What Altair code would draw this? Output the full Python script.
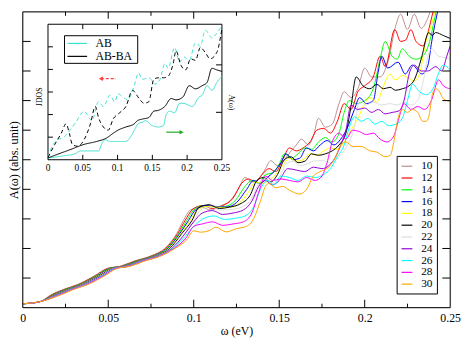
import altair as alt
import pandas as pd

# ---------------- main chart data ----------------
series_names = ['10', '12', '14', '16', '18', '20', '22', '24', '26', '28', '30']
series_colors = ['#bc8f8f', '#ff0000', '#00ff00', '#0000ff', '#ffff00', '#000000',
                 '#dcdcdc', '#9400d3', '#00ffff', '#ff00ff', '#ffa500']

c10 = [(0, 0.13), (0.01, 0.2), (0.017, 0.45), (0.024, 0.62), (0.032, 0.78), (0.042, 1.08),
       (0.049, 1.32), (0.057, 1.4), (0.065, 1.57), (0.075, 1.75), (0.083, 2.0), (0.090, 2.5),
       (0.094, 2.95), (0.098, 3.3), (0.104, 3.4), (0.11, 3.3), (0.116, 3.45), (0.121, 3.6),
       (0.126, 4.0), (0.13, 4.4), (0.134, 4.25), (0.138, 4.35), (0.142, 4.7), (0.145, 4.97),
       (0.149, 4.8), (0.153, 5.0), (0.157, 5.3), (0.16, 5.5), (0.163, 5.7), (0.167, 5.5),
       (0.17, 5.8), (0.173, 6.4), (0.177, 6.1), (0.181, 6.2), (0.185, 6.9), (0.188, 7.3),
       (0.192, 7.1), (0.196, 7.4), (0.2, 8.1), (0.204, 7.8), (0.209, 7.8), (0.214, 8.4),
       (0.218, 9.5), (0.221, 9.92), (0.225, 9.4), (0.229, 9.92), (0.233, 9.44), (0.237, 9.8),
       (0.241, 10.5), (0.245, 10.8), (0.25, 11.0)]
c12 = [(0, 0.13), (0.01, 0.2), (0.0176, 0.45), (0.0246, 0.62), (0.0326, 0.78), (0.0426, 1.08),
       (0.0496, 1.32), (0.0576, 1.4), (0.0656, 1.57), (0.0756, 1.75), (0.0836, 2.0), (0.0906, 2.5),
       (0.095, 2.95), (0.099, 3.3), (0.105, 3.45), (0.111, 3.35), (0.117, 3.45), (0.123, 3.7),
       (0.128, 4.2), (0.132, 4.35), (0.136, 4.25), (0.14, 4.5), (0.144, 4.7), (0.148, 4.6),
       (0.152, 5.0), (0.156, 5.4), (0.16, 5.3), (0.164, 5.4), (0.168, 5.6), (0.172, 6.0),
       (0.176, 6.06), (0.18, 5.9), (0.184, 6.3), (0.188, 6.9), (0.192, 6.7), (0.196, 7.3),
       (0.2, 7.5), (0.205, 7.8), (0.209, 8.5), (0.212, 8.15), (0.2176, 9.4), (0.221, 9.0),
       (0.224, 9.05), (0.227, 9.4), (0.23, 9.0), (0.234, 8.85), (0.237, 9.3), (0.24, 10.0),
       (0.244, 10.6), (0.25, 11.0)]
c14 = [(0, 0.13), (0.01, 0.2), (0.0182, 0.45), (0.0252, 0.62), (0.0332, 0.78), (0.0432, 1.08),
       (0.0502, 1.32), (0.0582, 1.4), (0.0662, 1.57), (0.0762, 1.75), (0.0842, 2.0), (0.0912, 2.5),
       (0.096, 2.95), (0.1, 3.3), (0.106, 3.45), (0.112, 3.4), (0.118, 3.42), (0.124, 3.6),
       (0.13, 4.1), (0.134, 4.3), (0.138, 4.2), (0.142, 4.5), (0.146, 4.55), (0.15, 4.85),
       (0.153, 5.2), (0.157, 5.05), (0.161, 5.2), (0.165, 5.4), (0.169, 5.35), (0.173, 5.6),
       (0.177, 5.75), (0.181, 5.6), (0.185, 5.9), (0.188, 6.6), (0.191, 7.0), (0.195, 6.9),
       (0.2, 7.0), (0.205, 7.4), (0.209, 8.4), (0.212, 9.0), (0.216, 8.5), (0.219, 8.4),
       (0.222, 8.75), (0.226, 8.5), (0.23, 8.4), (0.234, 8.5), (0.238, 9.0), (0.241, 9.8),
       (0.244, 10.5), (0.25, 11.0)]
c16 = [(0, 0.13), (0.01, 0.2), (0.0188, 0.45), (0.0258, 0.62), (0.0338, 0.78), (0.0438, 1.08),
       (0.0508, 1.32), (0.0588, 1.4), (0.0668, 1.57), (0.0768, 1.75), (0.0848, 2.0), (0.0918, 2.5),
       (0.097, 2.95), (0.101, 3.3), (0.107, 3.45), (0.113, 3.42), (0.119, 3.4), (0.125, 3.55),
       (0.131, 4.0), (0.135, 4.3), (0.139, 4.2), (0.143, 4.4), (0.147, 4.6), (0.151, 4.9),
       (0.154, 5.2), (0.158, 5.0), (0.162, 5.05), (0.166, 5.4), (0.17, 5.3), (0.174, 5.5),
       (0.178, 5.65), (0.182, 5.5), (0.186, 5.7), (0.19, 6.1), (0.194, 6.7), (0.197, 7.1),
       (0.201, 6.9), (0.205, 7.0), (0.208, 8.0), (0.21, 8.5), (0.2135, 8.1), (0.2195, 8.3),
       (0.2237, 7.9), (0.2278, 8.2), (0.2335, 7.9), (0.237, 8.2), (0.2392, 9.0), (0.2415, 9.7),
       (0.245, 10.5), (0.25, 11.0)]
c18 = [(0, 0.13), (0.01, 0.2), (0.0194, 0.45), (0.0264, 0.62), (0.0344, 0.78), (0.0444, 1.08),
       (0.0514, 1.32), (0.0594, 1.4), (0.0674, 1.57), (0.0774, 1.75), (0.0854, 2.0), (0.0924, 2.5),
       (0.098, 2.95), (0.102, 3.3), (0.108, 3.42), (0.114, 3.4), (0.12, 3.38), (0.126, 3.5),
       (0.132, 3.9), (0.136, 4.25), (0.14, 4.2), (0.144, 4.3), (0.148, 4.5), (0.152, 4.8),
       (0.156, 5.05), (0.16, 4.95), (0.164, 5.0), (0.168, 5.2), (0.172, 5.15), (0.176, 5.3),
       (0.18, 5.4), (0.184, 5.35), (0.188, 5.6), (0.192, 6.0), (0.196, 6.4), (0.2, 6.9),
       (0.203, 7.1), (0.207, 6.95), (0.211, 7.5), (0.2148, 7.9), (0.218, 7.7), (0.222, 7.85),
       (0.226, 7.75), (0.229, 7.67), (0.232, 7.9), (0.2358, 9.0), (0.2392, 9.6), (0.242, 10.2),
       (0.25, 11.0)]
c20 = [(0, 0.13), (0.01, 0.2), (0.02, 0.45), (0.027, 0.62), (0.035, 0.78), (0.045, 1.08),
       (0.052, 1.32), (0.06, 1.4), (0.068, 1.57), (0.078, 1.75), (0.086, 2.0), (0.093, 2.5),
       (0.099, 2.95), (0.103, 3.38), (0.109, 3.48), (0.115, 3.35), (0.121, 3.4), (0.127, 3.5),
       (0.133, 3.8), (0.137, 4.3), (0.141, 4.4), (0.145, 4.25), (0.149, 4.5), (0.153, 5.0),
       (0.157, 5.1), (0.161, 4.9), (0.165, 4.95), (0.169, 5.2), (0.173, 5.15), (0.177, 5.2),
       (0.181, 5.3), (0.185, 5.5), (0.189, 5.9), (0.192, 6.8), (0.195, 7.8), (0.199, 7.5),
       (0.203, 7.4), (0.207, 7.55), (0.211, 7.4), (0.2148, 7.45), (0.218, 7.35), (0.222, 7.4),
       (0.226, 7.5), (0.229, 7.7), (0.233, 8.4), (0.2375, 9.3), (0.2395, 9.2), (0.2415, 9.3),
       (0.246, 9.2), (0.25, 9.1)]
c22 = [(0, 0.13), (0.01, 0.2), (0.0206, 0.45), (0.0276, 0.62), (0.0356, 0.78), (0.0456, 1.08),
       (0.0526, 1.32), (0.0606, 1.4), (0.0686, 1.57), (0.0786, 1.75), (0.0866, 2.0), (0.0936, 2.5),
       (0.1, 2.95), (0.104, 3.3), (0.11, 3.4), (0.116, 3.3), (0.122, 3.32), (0.128, 3.4),
       (0.134, 3.7), (0.138, 4.2), (0.142, 4.35), (0.146, 4.2), (0.15, 4.4), (0.154, 4.85),
       (0.158, 4.95), (0.162, 4.8), (0.166, 4.85), (0.17, 4.95), (0.175, 4.97), (0.18, 4.9),
       (0.185, 5.1), (0.19, 5.5), (0.194, 6.1), (0.197, 7.0), (0.201, 6.85), (0.205, 6.95),
       (0.21, 6.85), (0.2148, 6.9), (0.219, 6.85), (0.223, 6.95), (0.227, 6.85), (0.231, 7.0),
       (0.234, 7.6), (0.2375, 8.6), (0.2392, 8.75), (0.2432, 8.5), (0.247, 8.45), (0.25, 8.4)]
c24 = [(0, 0.13), (0.01, 0.2), (0.0212, 0.45), (0.0282, 0.62), (0.0362, 0.78), (0.0462, 1.08),
       (0.0532, 1.32), (0.0612, 1.4), (0.0692, 1.57), (0.0792, 1.75), (0.0872, 2.0), (0.0942, 2.45),
       (0.1, 2.9), (0.105, 3.2), (0.111, 3.28), (0.117, 3.15), (0.123, 3.2), (0.129, 3.3),
       (0.134, 3.6), (0.138, 4.1), (0.142, 4.3), (0.146, 4.15), (0.15, 4.3), (0.155, 4.7),
       (0.16, 4.65), (0.165, 4.6), (0.17, 4.75), (0.175, 4.7), (0.179, 4.8), (0.183, 5.1),
       (0.186, 5.5), (0.189, 6.0), (0.192, 6.85), (0.196, 6.7), (0.2, 6.75), (0.204, 6.6),
       (0.208, 6.7), (0.212, 6.55), (0.216, 6.6), (0.22, 6.65), (0.223, 7.0), (0.226, 7.9),
       (0.229, 8.2), (0.233, 8.0), (0.237, 8.0), (0.2415, 8.15), (0.245, 8.0), (0.248, 8.5),
       (0.25, 8.85)]
c26 = [(0, 0.13), (0.01, 0.2), (0.0218, 0.45), (0.0288, 0.62), (0.0368, 0.78), (0.0468, 1.08),
       (0.0538, 1.32), (0.0618, 1.4), (0.0698, 1.57), (0.0798, 1.75), (0.0878, 2.0), (0.0948, 2.4),
       (0.101, 2.8), (0.106, 3.02), (0.112, 3.1), (0.118, 2.98), (0.124, 3.02), (0.13, 3.1),
       (0.135, 3.4), (0.139, 4.0), (0.143, 4.3), (0.147, 4.15), (0.151, 4.45), (0.156, 4.4),
       (0.161, 4.3), (0.166, 4.45), (0.171, 4.4), (0.176, 4.5), (0.18, 4.7), (0.184, 5.1),
       (0.188, 5.5), (0.191, 6.1), (0.194, 6.45), (0.198, 6.3), (0.202, 6.4), (0.206, 6.2),
       (0.21, 6.3), (0.214, 6.15), (0.218, 6.2), (0.222, 6.4), (0.225, 7.0), (0.228, 7.55),
       (0.232, 7.3), (0.236, 7.2), (0.24, 7.4), (0.243, 7.9), (0.246, 8.2), (0.25, 8.03)]
c28 = [(0, 0.13), (0.01, 0.2), (0.0224, 0.45), (0.0294, 0.62), (0.0374, 0.78), (0.0474, 1.08),
       (0.0544, 1.32), (0.0624, 1.4), (0.0704, 1.57), (0.0804, 1.75), (0.0884, 2.0), (0.0954, 2.35),
       (0.1, 2.75), (0.105, 2.83), (0.111, 2.9), (0.117, 2.78), (0.123, 2.83), (0.129, 2.9),
       (0.134, 3.2), (0.138, 3.9), (0.142, 4.45), (0.146, 4.3), (0.151, 4.35), (0.156, 4.3),
       (0.161, 4.25), (0.166, 4.4), (0.171, 4.3), (0.175, 4.45), (0.178, 4.9), (0.181, 5.6),
       (0.185, 5.9), (0.189, 5.7), (0.193, 6.0), (0.197, 5.95), (0.201, 5.85), (0.205, 5.9),
       (0.209, 5.7), (0.213, 5.6), (0.217, 5.8), (0.22, 6.4), (0.223, 6.9), (0.227, 6.7),
       (0.231, 6.8), (0.235, 6.7), (0.239, 7.0), (0.2432, 7.7), (0.246, 7.5), (0.25, 7.4)]
c30 = [(0, 0.13), (0.01, 0.2), (0.023, 0.45), (0.03, 0.62), (0.038, 0.78), (0.048, 1.08),
       (0.055, 1.32), (0.063, 1.4), (0.071, 1.57), (0.081, 1.75), (0.089, 2.0), (0.096, 2.3),
       (0.1, 2.6), (0.104, 2.55), (0.109, 2.6), (0.113, 2.72), (0.119, 2.56), (0.125, 2.67),
       (0.131, 2.75), (0.135, 3.0), (0.139, 3.6), (0.142, 4.1), (0.144, 4.2), (0.148, 4.05),
       (0.152, 4.1), (0.156, 3.97), (0.162, 3.84), (0.166, 4.0), (0.17, 4.45), (0.174, 4.6),
       (0.179, 4.75), (0.183, 5.1), (0.186, 5.5), (0.189, 5.6), (0.193, 5.45), (0.198, 5.45),
       (0.203, 5.3), (0.207, 5.26), (0.212, 5.1), (0.215, 5.15), (0.217, 5.6), (0.2195, 6.4),
       (0.222, 6.7), (0.225, 6.6), (0.228, 6.7), (0.231, 6.6), (0.234, 6.3), (0.236, 6.3),
       (0.238, 6.6), (0.2395, 7.2), (0.2415, 7.4), (0.2432, 7.35), (0.246, 7.06), (0.25, 6.97)]
main_curves = [c10, c12, c14, c16, c18, c20, c22, c24, c26, c28, c30]

# axis tick values
x_labels = [0, 0.05, 0.1, 0.15, 0.2, 0.25]
x_major = [0.05, 0.1, 0.15, 0.2]
x_minor = [0.025, 0.075, 0.125, 0.175, 0.225]
y_major = [1, 2, 3, 4, 5, 6, 7, 8, 9]

# ---------------- inset data ----------------
ab_jdos = [(0, 0.1), (0.0075, 0.68), (0.0145, 0.89), (0.024, 1.03), (0.033, 1.38), (0.04, 1.66),
           (0.052, 2.15), (0.056, 2.01), (0.063, 1.73), (0.0726, 2.57), (0.0796, 2.36), (0.089, 2.86),
           (0.096, 2.57), (0.1006, 2.92), (0.1075, 2.78), (0.1145, 2.65), (0.124, 3.28), (0.13, 3.84),
           (0.1355, 3.56), (0.1448, 3.63), (0.154, 3.35), (0.161, 3.56), (0.168, 4.26), (0.1727, 4.05),
           (0.182, 4.97), (0.189, 4.33), (0.196, 4.54), (0.203, 4.4), (0.212, 5.18), (0.219, 5.03),
           (0.226, 5.74), (0.2356, 5.39), (0.2426, 5.6), (0.25, 5.95)]
abba_jdos = [(0, 0.1), (0.0098, 0.68), (0.019, 1.17), (0.026, 1.59), (0.0307, 1.17), (0.035, 0.68),
             (0.042, 0.6), (0.052, 0.89), (0.061, 1.59), (0.068, 2.36), (0.0726, 1.87), (0.0796, 1.45),
             (0.0866, 1.31), (0.0936, 1.8), (0.103, 2.08), (0.112, 2.36), (0.1215, 3.07), (0.131, 2.71),
             (0.138, 2.5), (0.145, 2.57), (0.152, 3.56), (0.159, 3.63), (0.166, 3.63), (0.1727, 3.7),
             (0.18, 4.26), (0.184, 4.82), (0.191, 4.19), (0.198, 3.98), (0.205, 4.47), (0.212, 4.4),
             (0.219, 4.97), (0.226, 4.75), (0.233, 4.47), (0.2426, 4.75), (0.25, 5.8)]
abba_a = [(0, 0.08), (0.0145, 0.25), (0.033, 0.46), (0.052, 0.68), (0.07, 0.81), (0.084, 0.96),
          (0.0936, 1.17), (0.1006, 1.31), (0.112, 1.45), (0.124, 1.59), (0.1285, 1.73), (0.1355, 1.8),
          (0.145, 1.87), (0.152, 2.15), (0.159, 2.19), (0.168, 2.36), (0.177, 2.71), (0.184, 2.65),
          (0.194, 2.78), (0.203, 3.28), (0.212, 3.14), (0.2216, 3.28), (0.2286, 3.42), (0.2356, 4.05),
          (0.2426, 3.98), (0.25, 3.91)]
ab_a = [(0, 0.08), (0.024, 0.18), (0.0377, 0.25), (0.047, 0.39), (0.061, 0.39), (0.0726, 0.39),
        (0.077, 0.68), (0.082, 0.89), (0.089, 0.81), (0.1006, 0.81), (0.112, 0.81), (0.119, 1.03),
        (0.124, 1.31), (0.131, 1.63), (0.1355, 1.66), (0.14, 1.73), (0.1494, 1.52), (0.159, 1.45),
        (0.166, 1.52), (0.17, 2.01), (0.175, 2.15), (0.182, 2.08), (0.189, 2.5), (0.194, 2.5),
        (0.2077, 2.36), (0.217, 2.78), (0.2216, 2.86), (0.2286, 3.28), (0.2356, 3.07), (0.2426, 3.42),
        (0.25, 3.7)]

inset_series = ['AB', 'AB-BA']
inset_colors = ['#40e0d0', '#000000']
inset_x_labels = [0, 0.05, 0.1, 0.15, 0.2, 0.25]
inset_x_label_text = ['0', '0.05', '0.1', '0.15', '0.2', '0.25']
inset_x_ticks = [0.05, 0.1, 0.15, 0.2]
inset_y_left = [1, 2, 3, 4, 5]
inset_y_right = [2.1, 4.2]

arrow_red_w = [0.0978, 0.0760]
arrow_red_y = [3.59, 3.59]
arrow_green_w = [0.170, 0.192]
arrow_green_y = [1.22, 1.22]

# ---------------- layout constants (style) ----------------
W, H = 435, 301
IX0, IX1 = 25.7, 202.7
IY0, IY1 = 150.5, 12.6
SERIF = 'Liberation Serif'

rows = []
for name, curve in zip(series_names, main_curves):
    for w, a in curve:
        rows.append({'w': w, 'A': a, 'N': name})
df_main = pd.DataFrame(rows)

xs = alt.Scale(domain=[0, 0.25], nice=False, zero=False)
ys = alt.Scale(domain=[0, 10], nice=False, zero=False)
ax_x = alt.Axis(values=x_labels, format='~g', title='ω (eV)', ticks=False, tickSize=0, domain=False,
                grid=False, labelFont=SERIF, labelFontSize=12, labelColor='black', labelPadding=5,
                labelFlush=False, titleFont=SERIF, titleFontSize=12, titleFontWeight='normal',
                titleColor='black', titlePadding=2)
ax_y = alt.Axis(title='A(ω) (abs. unit)', labels=False, ticks=False, tickSize=0, domain=False,
                grid=False, titleFont=SERIF, titleFontSize=12.5, titleFontWeight='normal',
                titleColor='black', titlePadding=2)

lines = alt.Chart(df_main).mark_line(strokeWidth=1, clip=True, interpolate='monotone').encode(
    x=alt.X('w:Q', scale=xs, axis=ax_x),
    y=alt.Y('A:Q', scale=ys, axis=ax_y),
    color=alt.Color('N:N', scale=alt.Scale(domain=series_names, range=series_colors),
                    legend=alt.Legend(title=None, orient='none', legendX=380.5, legendY=146.6,
                                      symbolType='stroke', symbolSize=121, symbolStrokeWidth=1.2,
                                      labelFont=SERIF, labelFontSize=11.5, labelColor='black',
                                      labelOffset=8, strokeColor='black', fillColor='white',
                                      padding=4, rowPadding=0)),
    order=alt.Order('w:Q'),
)

def vticks(vals, y_from, y_to):
    return alt.Chart(pd.DataFrame({'w': vals})).mark_rule(color='black', strokeWidth=1).encode(
        x=alt.X('w:Q', scale=xs, axis=ax_x), y=alt.value(y_from), y2=alt.value(y_to))

def hticks(vals, x_from, x_to):
    return alt.Chart(pd.DataFrame({'A': vals})).mark_rule(color='black', strokeWidth=1).encode(
        y=alt.Y('A:Q', scale=ys, axis=ax_y), x=alt.value(x_from), x2=alt.value(x_to))

main_frame = alt.Chart(pd.DataFrame({'k': [0]})).mark_rect(
    fillOpacity=0, stroke='black', strokeWidth=1).encode(
    x=alt.value(0), x2=alt.value(W), y=alt.value(0), y2=alt.value(H))

main_layer = alt.layer(
    lines,
    vticks(x_major, H, H - 8), vticks(x_minor, H, H - 4),
    vticks(x_major, 0, 7), vticks(x_minor, 0, 4),
    hticks(y_major, 0, 8), hticks(y_major, W, W - 8),
    main_frame,
)

# ---------------- inset ----------------
ixs = alt.Scale(domain=[0, 0.25], range=[IX0, IX1], nice=False, zero=False)
iys = alt.Scale(domain=[0, 6], range=[IY0, IY1], nice=False, zero=False)

irows = []
for series, kind, curve in [('AB', 'JDOS', ab_jdos), ('AB-BA', 'JDOS', abba_jdos),
                            ('AB', 'A', ab_a), ('AB-BA', 'A', abba_a)]:
    for w, v in curve:
        irows.append({'iw': w, 'iy': v, 'series': series, 'kind': kind})
df_inset = pd.DataFrame(irows)

frame = alt.Chart(pd.DataFrame({'iw': [0], 'iw2': [0.25], 'iy': [0], 'iy2': [6]})).mark_rect(
    fill='white', stroke='black', strokeWidth=1).encode(
    x=alt.X('iw:Q', scale=ixs, axis=None), x2='iw2:Q',
    y=alt.Y('iy:Q', scale=iys, axis=None), y2='iy2:Q')

ilines = alt.Chart(df_inset).mark_line(strokeWidth=1, interpolate='monotone').encode(
    x=alt.X('iw:Q', scale=ixs, axis=None),
    y=alt.Y('iy:Q', scale=iys, axis=None),
    color=alt.Color('series:N', scale=alt.Scale(domain=inset_series, range=inset_colors), legend=None),
    strokeDash=alt.StrokeDash('kind:N', scale=alt.Scale(domain=['JDOS', 'A'], range=[[4, 3], [1, 0]]),
                              legend=None),
    order=alt.Order('iw:Q'),
)

def ivticks(vals, y_from, y_to):
    return alt.Chart(pd.DataFrame({'iw': vals})).mark_rule(color='black', strokeWidth=1).encode(
        x=alt.X('iw:Q', scale=ixs, axis=None), y=alt.value(y_from), y2=alt.value(y_to))

def ihticks(vals, x_from, x_to):
    return alt.Chart(pd.DataFrame({'iy': vals})).mark_rule(color='black', strokeWidth=1).encode(
        y=alt.Y('iy:Q', scale=iys, axis=None), x=alt.value(x_from), x2=alt.value(x_to))

ilabels = alt.Chart(pd.DataFrame({'iw': inset_x_labels, 't': inset_x_label_text})).mark_text(
    font=SERIF, fontSize=9.5, color='black', baseline='top').encode(
    x=alt.X('iw:Q', scale=ixs, axis=None), y=alt.value(IY0 + 3), text='t:N')

jdos = alt.Chart(pd.DataFrame({'t': ['JDOS']})).mark_text(
    font=SERIF, fontSize=8, angle=270, color='black').encode(
    text='t:N', x=alt.value(17.5), y=alt.value(86.4))
aw = alt.Chart(pd.DataFrame({'t': ['A(ω)']})).mark_text(
    font=SERIF, fontSize=8, angle=90, color='black').encode(
    text='t:N', x=alt.value(211.5), y=alt.value(92.2))

# inset legend (drawn box, sample lines, labels)
LGX0, LGX1, LGY0, LGY1 = 42.5, 117.0, 24.3, 52.4
leg_box = alt.Chart(pd.DataFrame({'k': [0]})).mark_rect(
    fill='white', stroke='black', strokeWidth=1).encode(
    x=alt.value(LGX0), x2=alt.value(LGX1), y=alt.value(LGY0), y2=alt.value(LGY1))
leg_items = []
for i, (lab, col) in enumerate(zip(inset_series, inset_colors)):
    ypos = 32.1 + i * 13.2
    leg_items.append(alt.Chart(pd.DataFrame({'k': [0]})).mark_rule(color=col, strokeWidth=1.2).encode(
        x=alt.value(45.5), x2=alt.value(65.5), y=alt.value(ypos)))
    leg_items.append(alt.Chart(pd.DataFrame({'t': [lab]})).mark_text(
        font=SERIF, fontSize=12, color='black', align='left', baseline='middle').encode(
        text='t:N', x=alt.value(74), y=alt.value(ypos)))

red_line = alt.Chart(pd.DataFrame({'iw': arrow_red_w, 'iy': arrow_red_y})).mark_line(
    color='#ff4040', strokeWidth=1.2, strokeDash=[3, 2]).encode(
    x=alt.X('iw:Q', scale=ixs, axis=None), y=alt.Y('iy:Q', scale=iys, axis=None))
red_head = alt.Chart(pd.DataFrame({'iw': arrow_red_w[1:], 'iy': arrow_red_y[1:]})).mark_point(
    shape='triangle-left', filled=True, size=22, color='#ff4040', opacity=1).encode(
    x=alt.X('iw:Q', scale=ixs, axis=None), y=alt.Y('iy:Q', scale=iys, axis=None))
green_line = alt.Chart(pd.DataFrame({'iw': arrow_green_w, 'iy': arrow_green_y})).mark_line(
    color='#22aa22', strokeWidth=1.2).encode(
    x=alt.X('iw:Q', scale=ixs, axis=None), y=alt.Y('iy:Q', scale=iys, axis=None))
green_head = alt.Chart(pd.DataFrame({'iw': arrow_green_w[1:], 'iy': arrow_green_y[1:]})).mark_point(
    shape='triangle-right', filled=True, size=22, color='#22aa22', opacity=1).encode(
    x=alt.X('iw:Q', scale=ixs, axis=None), y=alt.Y('iy:Q', scale=iys, axis=None))

inset_layer = alt.layer(
    frame, ilines,
    ivticks(inset_x_ticks, IY0, IY0 - 5), ivticks(inset_x_ticks, IY1, IY1 + 5),
    ihticks(inset_y_left, IX0, IX0 + 5), ihticks(inset_y_right, IX1, IX1 - 6),
    ilabels, jdos, aw, leg_box, *leg_items, red_line, red_head, green_line, green_head,
)

chart = alt.layer(main_layer, inset_layer).resolve_scale(
    x='independent', y='independent', color='independent', strokeDash='independent'
).properties(
    width=W, height=H, padding={'left': 0, 'top': 0, 'right': 0, 'bottom': 0}
).configure_view(stroke='black', strokeWidth=1).configure(background='white')

chart.save('out.html', embed_options={'renderer': 'svg', 'actions': False})
